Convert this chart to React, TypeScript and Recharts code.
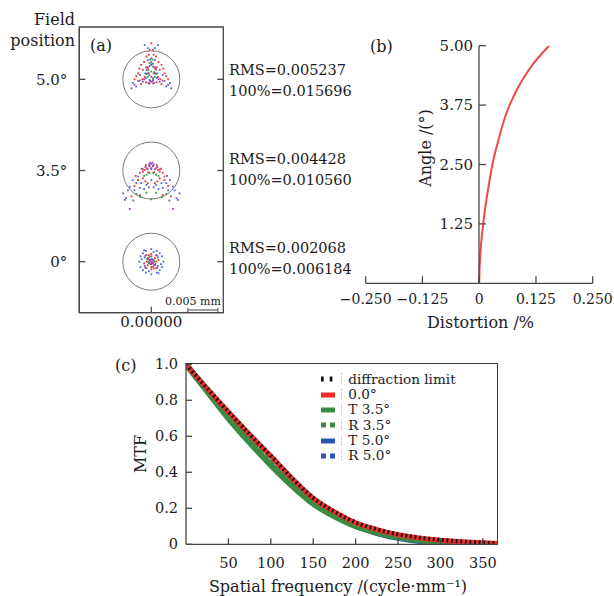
import {
  ScatterChart,
  Scatter,
  LineChart,
  Line,
  XAxis,
  YAxis,
  ReferenceDot,
  ReferenceLine,
  ReferenceArea,
  Legend,
} from 'recharts';

type Pt = [number, number];

// ---------- (a) spot diagram ----------
// ray offsets from the chief ray, µm (x right, y up), one list per wavelength colour
const fieldLabels = ['0°', '3.5°', '5.0°'];
const fieldRows = [0, 15.2, 30.4]; // where each field is stacked in the plot, µm
const rmsRadius = ['0.002068', '0.004428', '0.005237'];
const geoRadius = ['0.006184', '0.010560', '0.015696'];
const airyRadiusUm = 4.75;
const scaleBarStartUm = 6.1;
const scaleBarUm = 5; // 0.005 mm

const blue0: Pt[] = [[-1.4, 1.4], [1.4, 1.4], [-1.4, -1.4], [1.4, -1.4], [0, 2.1], [0, -2.1], [-2.0, 0], [2.0, 0], [-0.8, 1.1], [0.8, 1.1], [-0.8, -1.1], [0.8, -1.1], [-1.1, 0.7], [1.1, -0.7], [-1.1, -0.7], [1.1, 0.7], [-1.8, 0.9], [1.8, -0.9], [-1.8, -0.9], [1.8, 0.9], [-0.9, 1.8], [0.9, -1.8], [0.9, 1.8], [-0.9, -1.8], [-1.6, 0.4], [1.6, -0.4], [0.4, 1.6], [-0.4, -1.6], [-1.2, 1.9], [1.2, -1.9]];
const red0: Pt[] = [[-0.6, 0.6], [0.6, 0.6], [-0.6, -0.6], [0.6, -0.6], [0, 0.9], [0, -0.9], [-0.8, 0], [0.8, 0], [-0.3, 0.3], [0.3, -0.3], [-1.0, 1.0], [1.0, -1.0], [-1.0, -1.0], [1.0, 1.0], [0, 1.3], [0, -1.3], [-0.4, 1.1], [0.4, -1.1], [1.2, 0.3], [-1.2, -0.3]];
const green0: Pt[] = [[-0.3, 0.8], [0.3, -0.8], [-0.5, 0], [0.5, 0], [0, 0.4], [0, -0.4], [-0.4, -0.3], [0.4, 0.3], [-0.7, 0.4], [0.7, -0.4]];
const purple0: Pt[] = [[0, 0], [-0.2, 0.2], [0.2, -0.2], [-0.3, -0.2], [0.3, 0.2], [0.1, 0.4], [-0.1, -0.4], [-0.5, 0.5], [0.5, -0.5]];

const blue35: Pt[] = [[-3.1, -1.6], [3.1, -1.6], [-2.5, -2.1], [2.5, -2.1], [-1.7, -2.1], [1.7, -2.1], [-0.8, -2.4], [0.8, -2.4], [-3.6, -2.7], [3.6, -2.7], [-4.7, -3.8], [4.7, -3.8], [-4.2, -4.6], [4.2, -4.6], [-1.9, -2.9], [1.9, -2.9], [0, -1.6], [-0.4, 1.0], [0.4, 1.0], [-2.8, -3.3], [2.8, -3.3], [-1.2, -3.1], [1.2, -3.1], [-1.4, 0.2], [1.4, 0.2], [-2.2, -1.0], [2.2, -1.0], [-3.9, -3.3], [3.9, -3.3], [-0.4, -2.8], [0.4, -2.8]];
const red35: Pt[] = [[-1.4, -0.2], [1.4, -0.2], [-1.9, -0.4], [1.9, -0.4], [-0.8, 0.4], [0.8, 0.4], [-0.3, 0.8], [0.3, 0.8], [-2.2, -1.6], [2.2, -1.6], [-1.4, -1.3], [1.4, -1.3], [-0.6, -2.1], [0.6, -2.1], [-1.9, -4.1], [1.9, -4.1], [-3.3, -4.3], [3.3, -4.3], [-1.1, 0.1], [1.1, 0.1], [-0.5, -0.3], [0.5, -0.3], [-0.9, 0.9], [0.9, 0.9], [-1.6, 0.3], [1.6, 0.3], [-2.6, -0.9], [2.6, -0.9], [-1.0, -1.8], [1.0, -1.8], [-2.8, -2.6], [2.8, -2.6]];
const green35: Pt[] = [[-0.3, -0.4], [0.3, -0.4], [-0.8, -0.7], [0.8, -0.7], [-2.5, -3.9], [2.5, -3.9], [-0.8, -3.7], [0.8, -3.7], [0, 0.2], [-3.0, -5.0], [3.0, -5.0], [0, -4.8], [-1.2, -0.9], [1.2, -0.9], [-1.8, -4.4], [1.8, -4.4]];
const purple35: Pt[] = [[0, 1.1], [-0.3, 0.7], [0.3, 0.7], [0, 0.4], [-4.4, -4.9], [4.4, -4.9], [-3.6, -6.4], [3.6, -6.4], [-0.6, 0.2], [0.6, 0.2], [-0.2, 1.3], [0.2, 1.3], [-1.0, 0.6], [1.0, 0.6]];

const blue50: Pt[] = [[-1.1, 5.7], [1.1, 5.7], [0, 3.5], [-0.6, 3.2], [0.6, 3.2], [-0.8, 1.6], [0.8, 1.6], [-0.3, -0.1], [0.3, -0.1], [-3.1, -0.6], [3.1, -0.6], [-2.5, -1.2], [2.5, -1.2], [-1.9, 0.7], [1.9, 0.7], [-1.4, -0.4], [1.4, -0.4], [-0.6, 5.2], [0.6, 5.2], [-2.2, -0.3], [2.2, -0.3], [-1.0, 1.0], [1.0, 1.0], [-0.3, 2.2], [0.3, 2.6], [-0.9, 0.2], [0.9, 0.2], [-0.5, -0.6], [0.5, -0.6]];
const red50: Pt[] = [[0, 6.0], [-0.3, 4.9], [0.3, 4.9], [-0.4, 4.1], [0.4, 4.1], [-0.8, 3.8], [0.8, 3.8], [-1.7, 2.4], [1.7, 2.4], [-1.4, 1.6], [1.4, 1.6], [-0.6, 1.8], [0.6, 1.8], [-2.2, 1.0], [2.2, 1.0], [-1.1, 0.4], [1.1, 0.4], [-2.8, 0], [2.8, 0], [-1.9, -0.2], [1.9, -0.2], [-1.7, -0.8], [1.7, -0.8], [-0.3, -0.7], [0.3, -0.7], [-1.2, 2.9], [1.2, 2.9], [-2.5, 0.5], [2.5, 0.5], [0, 2.9], [-0.9, 2.0], [0.9, 2.0], [-0.6, 1.0], [0.6, 1.0], [-1.5, 0.0], [1.5, 0.0], [-0.9, -0.5], [0.9, -0.5], [-2.0, 1.8], [2.0, 1.8]];
const green50: Pt[] = [[-0.3, 2.7], [0.3, 2.1], [0, 1.3], [-0.6, 0.4], [0.6, 0.4], [0, -0.4], [-0.3, 0.7], [0.3, 0.2], [0, 2.5], [-0.5, 1.5], [0.5, 1.2], [-0.8, 0.9], [0.8, 0.9], [-0.2, 3.3], [0.2, 3.3]];
const purple50: Pt[] = [[-3.3, -1.5], [3.3, -1.5], [0, 2.4], [0, 0.4], [-0.4, 1.0], [0.4, 1.0], [-2.8, -0.9], [2.8, -0.9], [-0.2, -0.3], [0.2, -0.3], [-0.6, 2.0], [0.6, 2.0], [-1.2, 0.0], [1.2, 0.0]];

// ---------- (b) distortion ----------
const distAngle = [0, 0.25, 0.5, 0.75, 1, 1.25, 1.5, 2, 2.5, 3, 3.5, 4, 4.5, 5];
const distValue = [0, 0.0006, 0.0018, 0.0035, 0.0058, 0.0088, 0.012, 0.02, 0.029, 0.042, 0.057, 0.079, 0.11, 0.154];
const distTicks = [-0.25, -0.125, 0, 0.125, 0.25];
const distTickLabels = ['−0.250', '−0.125', '0', '0.125', '0.250'];
const angleTicks = [1.25, 2.5, 3.75, 5];

// ---------- (c) MTF ----------
const mtfFreq = [0, 25, 50, 75, 100, 125, 150, 175, 200, 225, 250, 275, 300, 325, 350, 367];
const mtfDiff = [1, 0.867, 0.737, 0.612, 0.492, 0.368, 0.258, 0.182, 0.122, 0.084, 0.056, 0.037, 0.025, 0.016, 0.009, 0.006];
const mtf00 = [1, 0.865, 0.735, 0.61, 0.49, 0.366, 0.256, 0.18, 0.12, 0.082, 0.054, 0.035, 0.023, 0.014, 0.008, 0.005];
const mtfT35 = [1, 0.85, 0.7, 0.565, 0.44, 0.325, 0.225, 0.155, 0.1, 0.065, 0.04, 0.022, 0.012, 0.006, 0.003, 0.002];
const mtfR35 = [1, 0.855, 0.715, 0.58, 0.455, 0.34, 0.235, 0.162, 0.106, 0.068, 0.042, 0.025, 0.014, 0.008, 0.004, 0.003];
const mtfT50 = [1, 0.85, 0.705, 0.57, 0.445, 0.33, 0.232, 0.158, 0.1, 0.06, 0.033, 0.016, 0.007, 0.003, 0.001, 0];
const mtfR50 = [1, 0.858, 0.72, 0.59, 0.463, 0.348, 0.245, 0.168, 0.11, 0.07, 0.043, 0.025, 0.014, 0.007, 0.003, 0.002];
const freqTicks = [50, 100, 150, 200, 250, 300, 350];
const mtfTicks = [0, 0.2, 0.4, 0.6, 0.8, 1.0];
const freqMax = 367;

const TEXT = '#1c1c1c';
const AXIS = '#474747';
const FONT = '"DejaVu Serif", serif';

const stack = (rows: Pt[][]) =>
  rows.flatMap((pts, i) => pts.map(([dx, dy]) => ({ x: dx, y: fieldRows[i] + dy })));

const spotBlue = stack([blue0, blue35, blue50]);
const spotRed = stack([red0, red35, red50]);
const spotGreen = stack([green0, green35, green50]);
const spotPurple = stack([purple0, purple35, purple50]);

const distData = distAngle.map((a, i) => ({ angle: a, dist: distValue[i] }));

const mtfData = mtfFreq.map((f, i) => ({
  f,
  diff: mtfDiff[i],
  r00: mtf00[i],
  t35: mtfT35[i],
  r35: mtfR35[i],
  t50: mtfT50[i],
  r50: mtfR50[i],
}));

// draw order: bottom first
const mtfSeries = [
  { key: 't50', name: 'T 5.0°', color: '#2755b0', width: 5, dash: undefined },
  { key: 'r50', name: 'R 5.0°', color: '#2755b0', width: 5, dash: '5 3' },
  { key: 't35', name: 'T 3.5°', color: '#3a8c42', width: 6, dash: undefined },
  { key: 'r35', name: 'R 3.5°', color: '#3a8c42', width: 5, dash: '5 3' },
  { key: 'r00', name: '0.0°', color: '#ee2c2c', width: 5, dash: undefined },
  { key: 'diff', name: 'diffraction limit', color: '#111111', width: 4, dash: '1.8 2.8' },
];
const legendOrder = ['diff', 'r00', 't35', 'r35', 't50', 'r50'];
const legendDash: Record<string, string | undefined> = { diff: '2.7 6', r35: '5 4', r50: '5 4' };

const PX_PER_UM = 6;

const dotShape = (color: string) => (p: any) => (
  <rect x={p.cx - 0.9} y={p.cy - 0.9} width={1.8} height={1.8} fill={color} />
);

function MtfLegend() {
  return (
    <div style={{ fontFamily: FONT, fontSize: 13.6, color: TEXT }}>
      {legendOrder.map((k) => {
        const s = mtfSeries.find((m) => m.key === k)!;
        return (
          <div key={k} style={{ display: 'flex', alignItems: 'center', height: 15.3 }}>
            <svg width={14} height={8}>
              <line x1={0} x2={14} y1={4} y2={4} stroke={s.color} strokeWidth={5} strokeDasharray={legendDash[k]} />
            </svg>
            <svg width={1} height={12} style={{ marginLeft: 6 }}>
              <line x1={0.5} x2={0.5} y1={0} y2={12} stroke="#bbbbbb" strokeWidth={1} strokeDasharray="1.5 1.5" />
            </svg>
            <span style={{ marginLeft: 6.6, whiteSpace: 'nowrap' }}>{s.name}</span>
          </div>
        );
      })}
    </div>
  );
}

const abs = (left: number, top: number, extra: React.CSSProperties = {}): React.CSSProperties => ({
  position: 'absolute',
  left,
  top,
  whiteSpace: 'nowrap',
  ...extra,
});

export default function App() {
  return (
    <div
      style={{
        position: 'absolute',
        left: 0,
        top: 0,
        width: 614,
        height: 596,
        background: '#fff',
        fontFamily: FONT,
        color: TEXT,
        fontSize: 16,
        lineHeight: '21px',
      }}
    >
      {/* (a) spot diagram */}
      <div style={abs(0, 0)}>
        <ScatterChart width={235} height={340} margin={{ top: 27, right: 11.7, bottom: 0, left: 0 }}>
          <XAxis
            type="number"
            dataKey="x"
            domain={[-12, 12]}
            allowDataOverflow
            ticks={[0]}
            tickFormatter={() => '0.00000'}
            height={27.3}
            tickSize={-6}
            tickMargin={10}
            stroke={AXIS}
            strokeWidth={1.3}
            tick={{ fill: TEXT, fontSize: 15 }}
          />
          <YAxis
            type="number"
            dataKey="y"
            domain={[-8.5, 39.12]}
            allowDataOverflow
            ticks={fieldRows}
            tickFormatter={(v: number) => fieldLabels[fieldRows.indexOf(v)]}
            width={79.3}
            tickSize={-6}
            tickMargin={18}
            stroke={AXIS}
            strokeWidth={1.3}
            tick={{ fill: TEXT, fontSize: 15 }}
          />
          <ReferenceArea x1={-12} x2={12} y1={-8.5} y2={39.12} fill="none" stroke={AXIS} strokeWidth={1.3} />
          {fieldRows.map((row) => (
            <ReferenceLine key={`rt${row}`} segment={[{ x: 12, y: row }, { x: 11, y: row }]} stroke={AXIS} strokeWidth={1.3} />
          ))}
          {fieldRows.map((row) => (
            <ReferenceDot key={row} x={0} y={row} r={airyRadiusUm * PX_PER_UM} fill="none" stroke="#7a7a7a" strokeWidth={1} />
          ))}
          <ReferenceLine segment={[{ x: scaleBarStartUm, y: -8.05 }, { x: scaleBarStartUm + scaleBarUm, y: -8.05 }]} stroke={AXIS} />
          <ReferenceLine segment={[{ x: scaleBarStartUm, y: -8.4 }, { x: scaleBarStartUm, y: -7.7 }]} stroke={AXIS} />
          <ReferenceLine segment={[{ x: scaleBarStartUm + scaleBarUm, y: -8.4 }, { x: scaleBarStartUm + scaleBarUm, y: -7.7 }]} stroke={AXIS} />
          <Scatter data={spotBlue} shape={dotShape('#4f6bdc')} isAnimationActive={false} />
          <Scatter data={spotRed} shape={dotShape('#e8343c')} isAnimationActive={false} />
          <Scatter data={spotGreen} shape={dotShape('#2f9a46')} isAnimationActive={false} />
          <Scatter data={spotPurple} shape={dotShape('#a33cbb')} isAnimationActive={false} />
        </ScatterChart>
      </div>

      <div style={abs(0, 9, { width: 75, textAlign: 'right' })}>
        Field
        <br />
        position
      </div>
      <div style={abs(90, 35)}>(a)</div>
      <div style={abs(165, 295, { fontSize: 11, lineHeight: '14px' })}>0.005 mm</div>
      {[238, 149, 59.5].map((top, i) => (
        <div key={i} style={abs(229, top, { fontSize: 14.5 })}>
          RMS={rmsRadius[i]}
          <br />
          100%={geoRadius[i]}
        </div>
      ))}

      {/* (b) distortion */}
      <div style={abs(320, 0)}>
        <LineChart width={294} height={340} data={distData} margin={{ top: 45.7, right: 21.3, bottom: 0, left: 45.7 }}>
          <XAxis
            type="number"
            dataKey="dist"
            domain={[-0.25, 0.25]}
            allowDataOverflow
            ticks={distTicks}
            tickFormatter={(v: number) => distTickLabels[distTicks.indexOf(v)]}
            height={56.7}
            tickSize={-7}
            tickMargin={17.7}
            stroke={AXIS}
            strokeWidth={1.3}
            tick={{ fill: TEXT, fontSize: 14 }}
          />
          <YAxis type="number" domain={[0, 5]} allowDataOverflow hide />
          <Line type="monotone" dataKey="angle" stroke="#f04848" strokeWidth={2} dot={false} isAnimationActive={false} />
        </LineChart>
      </div>
      <div style={abs(409.3, 0)}>
        <LineChart width={100} height={340} data={distData} margin={{ top: 45.7, right: 30, bottom: 56.7, left: 0 }}>
          <XAxis type="number" dataKey="dist" domain={[0, 0.25]} allowDataOverflow hide />
          <YAxis
            type="number"
            domain={[0, 5]}
            allowDataOverflow
            ticks={angleTicks}
            tickFormatter={(v: number) => v.toFixed(2)}
            width={70}
            tickSize={-7}
            tickMargin={13}
            stroke={AXIS}
            strokeWidth={1.3}
            tick={{ fill: TEXT, fontSize: 15 }}
          />
        </LineChart>
      </div>
      <div style={abs(370, 36)}>(b)</div>
      <div style={abs(425, 148.3, { transform: 'translate(-50%, -50%) rotate(-90deg)' })}>Angle /(°)</div>
      <div style={abs(480.5, 311.5, { transform: 'translateX(-50%)' })}>Distortion /%</div>

      {/* (c) MTF */}
      <div style={abs(100, 340)}>
        <LineChart width={405} height={256} data={mtfData} margin={{ top: 24.3, right: 7.7, bottom: 0, left: 46 }}>
          <XAxis
            type="number"
            dataKey="f"
            domain={[0, freqMax]}
            allowDataOverflow
            ticks={freqTicks}
            height={51.7}
            tickSize={-6}
            tickMargin={19.7}
            stroke={AXIS}
            strokeWidth={1.3}
            tick={{ fill: TEXT, fontSize: 14.5 }}
          />
          <YAxis
            type="number"
            domain={[0, 1]}
            allowDataOverflow
            ticks={mtfTicks}
            tickFormatter={(v: number) => (v === 0 ? '0' : v.toFixed(1))}
            width={40}
            tickSize={-6}
            tickMargin={14}
            stroke={AXIS}
            strokeWidth={1.3}
            tick={{ fill: TEXT, fontSize: 14.5 }}
          />
          <Legend
            layout="vertical"
            align="center"
            verticalAlign="middle"
            wrapperStyle={{ left: 220.7, top: 31.7, width: 'auto' }}
            content={() => <MtfLegend />}
          />
          {mtfSeries.map((s) => (
            <Line
              key={s.key}
              type="monotone"
              dataKey={s.key}
              name={s.name}
              stroke={s.color}
              strokeWidth={s.width}
              strokeDasharray={s.dash}
              dot={false}
              isAnimationActive={false}
            />
          ))}
        </LineChart>
      </div>
      {/* top/right frame of the MTF plot box */}
      <div
        style={abs(185, 363, {
          width: 313,
          height: 182,
          boxSizing: 'border-box',
          borderTop: '1.5px solid #3a3a3a',
          borderRight: '1.5px solid #3a3a3a',
          zIndex: 5,
          pointerEvents: 'none',
        })}
      />
      <div style={abs(115, 354.5)}>(c)</div>
      <div style={abs(140, 453.5, { transform: 'translate(-50%, -50%) rotate(-90deg)' })}>MTF</div>
      <div style={abs(338, 575.5, { transform: 'translateX(-50%)' })}>Spatial frequency /(cycle·mm⁻¹)</div>
    </div>
  );
}
